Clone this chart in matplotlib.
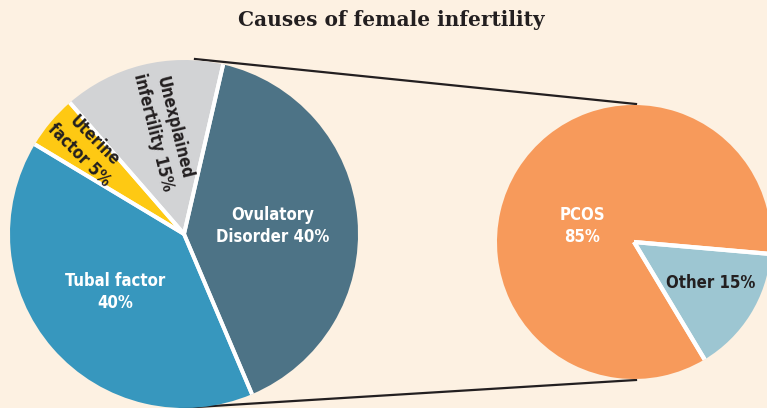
import matplotlib.pyplot as plt
import numpy as np

# data
causes = ['Ovulatory\nDisorder', 'Tubal factor\n', 'Uterine\nfactor', 'Unexplained\ninfertility']
cause_pct = [40, 40, 5, 15]
cause_colors = ['#4d7386', '#3797be', '#fec913', '#d2d3d5']

ovulatory = ['PCOS', 'Other']
ovulatory_pct = [85, 15]
ovulatory_colors = ['#f79a5b', '#9dc6d2']

bg = '#fdf1e2'
dark = '#231f20'

W, H = 767, 408
fig = plt.figure(figsize=(W / 100, H / 100), dpi=100, facecolor=bg)
ax = fig.add_axes([0, 0, 1, 1])
ax.set_facecolor(bg)


# y measured from the top, like the picture
def Y(y):
    return H - y


def gaps(wedges, lw):
    # white separators along the straight edges of each wedge
    for w in wedges:
        cx, cy = w.center
        for th in (w.theta1, w.theta2):
            t = np.radians(th)
            ax.plot([cx, cx + w.r * np.cos(t)], [cy, cy + w.r * np.sin(t)],
                    color='white', lw=lw, solid_capstyle='butt', zorder=3)


# connector lines between the two pies
ax.plot([195, 636], [Y(59), Y(104)], color=dark, lw=1.6, zorder=1)
ax.plot([180, 636], [Y(408), Y(380)], color=dark, lw=1.6, zorder=1)

w1, _ = ax.pie(cause_pct, colors=cause_colors, startangle=77, counterclock=False,
               center=(184, Y(234)), radius=174, explode=[0.015, 0, 0, 0],
               wedgeprops=dict(linewidth=0), frame=True)
gaps(w1, 2.8)

w2, _ = ax.pie(ovulatory_pct, colors=ovulatory_colors, startangle=-5,
               center=(634, Y(242)), radius=137, explode=[0, 0.04],
               wedgeprops=dict(linewidth=0), frame=True)
gaps(w2, 3)

ax.set_xlim(0, W)
ax.set_ylim(0, H)
ax.set_aspect('equal')
ax.axis('off')

lab = dict(family='DejaVu Sans', fontstretch='condensed', fontweight='bold',
           fontsize=12, ha='center', va='center', linespacing=1.25)
ax.text(273, Y(226), f'{causes[0]} {cause_pct[0]}%', color='white', **lab)
ax.text(115, Y(292), f'{causes[1]}{cause_pct[1]}%', color='white', **lab)
ax.text(87, Y(148), f'{causes[2]} {cause_pct[2]}%', color=dark, rotation=-45,
        rotation_mode='anchor', **lab)
ax.text(164, Y(130), f'{causes[3]} {cause_pct[3]}%', color=dark, rotation=-76,
        rotation_mode='anchor', **lab)
ax.text(582, Y(226), f'{ovulatory[0]}\n{ovulatory_pct[0]}%', color='white', **lab)
ax.text(711, Y(283), f'{ovulatory[1]} {ovulatory_pct[1]}%', color=dark, **lab)

ax.text(W / 2 + 8, Y(20), 'Causes of female infertility', ha='center', va='center',
        family='DejaVu Serif', fontweight='bold', fontsize=14.5, color=dark)

fig.savefig('out.png', dpi=100, facecolor=bg)
